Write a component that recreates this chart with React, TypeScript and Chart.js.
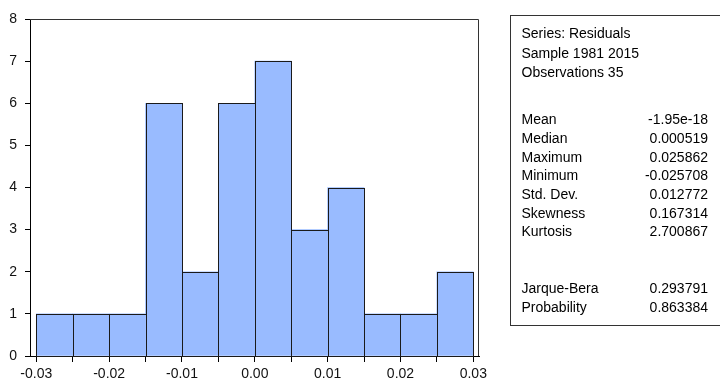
import React, { useEffect, useRef } from 'react';
import { Chart, registerables } from 'chart.js';

Chart.register(...registerables);

// ---- data ----
const binLower = [-0.03, -0.025, -0.02, -0.015, -0.01, -0.005, 0, 0.005, 0.01, 0.015, 0.02, 0.025];
const binWidth = 0.005;
const counts = [1, 1, 1, 6, 2, 6, 7, 3, 4, 1, 1, 2];
const xTickValues = [-0.03, -0.025, -0.02, -0.015, -0.01, -0.005, 0, 0.005, 0.01, 0.015, 0.02, 0.025, 0.03];
const xTickLabels = ['-0.03', '', '-0.02', '', '-0.01', '', '0.00', '', '0.01', '', '0.02', '', '0.03'];
const yTickValues = [0, 1, 2, 3, 4, 5, 6, 7, 8];
const statHeader = ['Series: Residuals', 'Sample 1981 2015', 'Observations 35'];
const statNames = ['Mean', 'Median', 'Maximum', 'Minimum', 'Std. Dev.', 'Skewness', 'Kurtosis'];
const statValues = ['-1.95e-18', '0.000519', '0.025862', '-0.025708', '0.012772', '0.167314', '2.700867'];
const testNames = ['Jarque-Bera', 'Probability'];
const testValues = ['0.293791', '0.863384'];

const FONT = "'Liberation Sans', Arial, Helvetica, sans-serif";
const BOX_FONT = 14;

const outlinePlugin = {
  id: 'histOutline',
  afterDatasetsDraw(chart: any) {
    const ctx = chart.ctx;
    const meta = chart.getDatasetMeta(0);
    ctx.save();
    ctx.strokeStyle = '#1a1a1a';
    ctx.lineWidth = 1;
    meta.data.forEach((el: any) => {
      const p = el.getProps(['x', 'y', 'base', 'width'], true);
      const l = Math.round(p.x - p.width / 2) + 0.5;
      const r = Math.round(p.x + p.width / 2) + 0.5;
      const t = Math.round(p.y) + 0.5;
      const b = Math.round(p.base) + 0.5;
      ctx.strokeRect(l, t, r - l, b - t);
    });
    ctx.restore();
  },
  afterDraw(chart: any) {
    const { ctx, chartArea } = chart;
    ctx.save();
    ctx.strokeStyle = '#333';
    ctx.lineWidth = 1;
    const top = Math.round(chartArea.top) + 0.5;
    const right = Math.round(chartArea.right) - 0.5;
    ctx.beginPath();
    ctx.moveTo(Math.round(chartArea.left), top);
    ctx.lineTo(right, top);
    ctx.lineTo(right, Math.round(chartArea.bottom));
    ctx.stroke();
    ctx.restore();
  },
};

function StatBox() {
  const rows: { label: string; value?: string; baseline: number }[] = [];
  const headerBase = [38, 57.5, 77];
  statHeader.forEach((t, i) => rows.push({ label: t, baseline: headerBase[i] }));
  statNames.forEach((t, i) => rows.push({ label: t, value: statValues[i], baseline: 124 + i * 18.7 }));
  testNames.forEach((t, i) => rows.push({ label: t, value: testValues[i], baseline: 293 + i * 19 }));
  const off = BOX_FONT * 0.8465;
  return (
    <>
      <div
        style={{
          position: 'absolute',
          left: 510,
          top: 15,
          width: 230,
          height: 311,
          border: '1px solid #333',
          boxSizing: 'border-box',
        }}
      />
      {rows.map((r, i) => (
        <React.Fragment key={i}>
          <div
            style={{
              position: 'absolute',
              left: 521.5,
              top: r.baseline - off,
              fontSize: BOX_FONT,
              lineHeight: `${BOX_FONT}px`,
              whiteSpace: 'nowrap',
              color: '#000',
            }}
          >
            {r.label}
          </div>
          {r.value !== undefined && (
            <div
              style={{
                position: 'absolute',
                right: 12,
                top: r.baseline - off,
                fontSize: BOX_FONT,
                lineHeight: `${BOX_FONT}px`,
                whiteSpace: 'nowrap',
                textAlign: 'right',
                color: '#000',
              }}
            >
              {r.value}
            </div>
          )}
        </React.Fragment>
      ))}
    </>
  );
}

export default function App() {
  const canvasRef = useRef<HTMLCanvasElement | null>(null);

  useEffect(() => {
    const canvas = canvasRef.current;
    if (!canvas) return;
    const chart = new Chart(canvas, {
      type: 'bar',
      data: {
        datasets: [
          {
            data: binLower.map((l, i) => ({ x: l + binWidth / 2, y: counts[i] })),
            backgroundColor: 'rgb(153, 187, 255)',
            borderWidth: 0,
            barPercentage: 1,
            categoryPercentage: 1,
          } as any,
        ],
      },
      options: {
        animation: false,
        responsive: false,
        devicePixelRatio: 1,
        layout: { padding: { left: 0, top: 19, right: 241, bottom: 0 } },
        plugins: { legend: { display: false }, tooltip: { enabled: false } },
        font: { family: FONT, size: 14 },
        scales: {
          x: {
            type: 'linear',
            min: -0.030865,
            max: 0.030783,
            offset: false,
            afterBuildTicks: (s: any) => {
              s.ticks = xTickValues.map((v) => ({ value: v }));
            },
            afterFit: (s: any) => {
              s.height = 25;
            },
            grid: { drawOnChartArea: false, drawTicks: true, tickLength: 6, color: '#000', offset: false },
            border: { display: true, color: '#000', width: 1 },
            ticks: {
              autoSkip: false,
              maxRotation: 0,
              minRotation: 0,
              padding: 4,
              color: '#111',
              font: { family: FONT, size: 14 },
              callback: (_v: any, i: number) => xTickLabels[i],
            },
          },
          y: {
            type: 'linear',
            min: 0,
            max: 8,
            afterBuildTicks: (s: any) => {
              s.ticks = yTickValues.map((v) => ({ value: v }));
            },
            afterFit: (s: any) => {
              s.width = 30;
            },
            grid: { drawOnChartArea: false, drawTicks: true, tickLength: 5, color: '#000' },
            border: { display: true, color: '#000', width: 1 },
            ticks: {
              padding: 8,
              color: '#111',
              font: { family: FONT, size: 14 },
              callback: (v: any) => String(v),
            },
          },
        },
      } as any,
      plugins: [outlinePlugin],
    });
    return () => chart.destroy();
  }, []);

  return (
    <div
      style={{
        position: 'absolute',
        left: 0,
        top: 0,
        width: 720,
        height: 381,
        overflow: 'hidden',
        background: '#fff',
        fontFamily: FONT,
      }}
    >
      <canvas ref={canvasRef} width={720} height={381} style={{ position: 'absolute', left: 0, top: 0, width: 720, height: 381 }} />
      <StatBox />
    </div>
  );
}
